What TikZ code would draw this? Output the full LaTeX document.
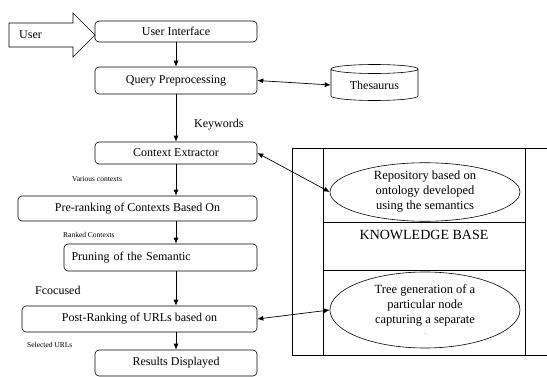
\documentclass[tikz,border=0pt]{standalone}
\usepackage{fontspec}
\setmainfont{Liberation Serif}
\usetikzlibrary{arrows.meta,shapes.geometric}
\begin{document}
\begin{tikzpicture}[x=1pt,y=-1pt,
  box/.style={draw, rounded corners=4pt, line width=0.6pt, inner sep=0pt, font=\fontsize{12}{13}\selectfont},
  lbl/.style={inner sep=0pt, font=\fontsize{12}{13}\selectfont},
  small/.style={inner sep=0pt, font=\fontsize{7.5}{9}\selectfont},
  oval/.style={draw, ellipse, line width=0.6pt, inner sep=0pt, minimum width=190pt, align=center, font=\fontsize{12.5}{15}\selectfont},
  arr/.style={-{Latex[length=6pt,width=5pt]}, line width=0.7pt},
  darr/.style={{Latex[length=6pt,width=5pt]}-{Latex[length=6pt,width=5pt]}, line width=0.7pt}]
\useasboundingbox (0,0) rectangle (547,377);
% user arrow
\draw[line width=0.6pt] (9,23) -- (73,23) -- (73,13) -- (95,35) -- (73,57) -- (73,47) -- (9,47) -- cycle;
\node[lbl, anchor=west] (user) at (19,35) {User};
% boxes
\node[box, minimum width=162pt, minimum height=21pt] (ui) at (176,31.5) {User Interface};
\node[box, minimum width=162pt, minimum height=27pt] (qp) at (176,80.5) {Query Preprocessing};
\node[box, minimum width=162pt, minimum height=22pt] (ce) at (176,153) {Context Extractor};
\node[box, minimum width=239pt, minimum height=25pt] (pr) at (137.5,208.5) {Pre-ranking of Contexts Based On};
\node[box, minimum width=193pt, minimum height=27pt, text width=178pt, align=left] (pn) at (160.5,257.5) {Pruning of the Semantic};
\node[box, minimum width=235pt, minimum height=26pt] (po) at (139.5,319) {Post-Ranking of URLs based on};
\node[box, minimum width=162pt, minimum height=26pt] (rd) at (176,363) {Results Displayed};
% labels
\node[lbl, anchor=west] (kw) at (194,125) {Keywords};
\node[small, anchor=west] (vc) at (72,179) {Various contexts};
\node[small, anchor=west] (rc) at (63,235) {Ranked Contexts};
\node[lbl, anchor=west] (fc) at (35,290) {Fcocused};
\node[small, anchor=west] (su) at (27,345) {Selected URLs};
% vertical arrows
\draw[arr] (ui) -- (qp);
\draw[arr] (qp) -- (ce);
\draw[arr] (ce.south) -- (ce.south |- pr.north);
\draw[arr] (ce.south |- pr.south) -- (ce.south |- pn.north);
\draw[arr] (ce.south |- pn.south) -- (ce.south |- po.north);
\draw[arr] (ce.south |- po.south) -- (rd.north);
% thesaurus cylinder
\draw[line width=0.6pt] (331,69) -- (331,96) arc[start angle=180, end angle=360, x radius=43.5pt, y radius=4.5pt] -- (418,69) arc[start angle=0, end angle=360, x radius=43.5pt, y radius=4.5pt];
\node[lbl, minimum width=87pt, minimum height=27pt] (th) at (374.5,85) {Thesaurus};
\draw[darr] (qp.east) -- (th.west);
% knowledge base
\draw[line width=0.6pt] (292,148) -- (547,148);
\draw[line width=0.6pt] (292,355) -- (547,355);
\draw[line width=0.6pt] (292,148) -- (292,355);
\draw[line width=0.6pt] (323,148) -- (323,355);
\draw[line width=0.6pt] (525,148) -- (525,355);
\draw[line width=0.6pt] (323,222) rectangle (525,270);
\node[inner sep=0pt, font=\fontsize{14}{16}\selectfont] (kb) at (424,235) {KNOWLEDGE BASE};
\node[oval, minimum height=58pt] (e1) at (425,192) {Repository based on\\ontology developed\\using the semantics};
\node[oval, minimum height=76pt] (e2) at (425,310) {Tree generation of a\\particular node\\capturing a separate\\[-4pt]{\fontsize{6}{6}\selectfont.}};
\draw[darr] (ce.east) -- (e1.west);
\draw[darr] (po.east) -- (e2.west);
\end{tikzpicture}
\end{document}
